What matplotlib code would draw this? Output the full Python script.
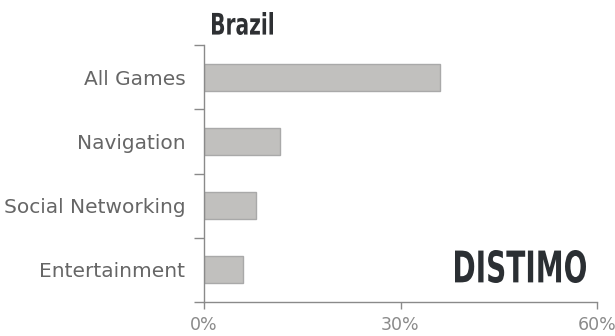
import matplotlib
matplotlib.use("Agg")
import matplotlib.pyplot as plt
from matplotlib.font_manager import FontProperties
from matplotlib.patches import PathPatch
from matplotlib.textpath import TextPath
from matplotlib.transforms import Affine2D

# Share of top downloads by category (Brazil)
categories = ["All Games", "Navigation", "Social Networking", "Entertainment"]
shares = [36.0, 11.6, 7.9, 5.9]
x_ticks = [0, 30, 60]
x_tick_labels = ["0%", "30%", "60%"]
title = "Brazil"
logo = "DISTIMO"

W, H = 615, 336


def fitted_text(fig, s, x0, y0, x1, y1, color):
    """Draw s as a path squeezed into the pixel box (x0, y0)-(x1, y1), y measured from top."""
    prop = FontProperties(family="DejaVu Sans", weight="bold", stretch="condensed")
    path = TextPath((0, 0), s, size=1, prop=prop)
    ext = path.get_extents()
    sx = (x1 - x0) / W / ext.width
    sy = (y1 - y0) / H / ext.height
    tr = Affine2D().translate(-ext.x0, -ext.y0).scale(sx, sy).translate(x0 / W, 1 - y1 / H)
    fig.add_artist(PathPatch(tr.transform_path(path), facecolor=color, edgecolor="none",
                             transform=fig.transFigure))


fig = plt.figure(figsize=(W / 100, H / 100), dpi=100)
ax = fig.add_axes([204 / W, 1 - 302 / H, 393 / W, 257 / H])

pos = list(range(len(categories)))
ax.barh(pos, shares, height=0.42, color="#c1c0be", edgecolor="#a9a9a9", linewidth=1.0)

ax.set_xlim(0, 60)
ax.set_ylim(len(categories) - 0.5, -0.5)

# y ticks at category boundaries, labels centred on bars
ax.set_yticks([p - 0.5 for p in pos] + [len(categories) - 0.5])
ax.set_yticklabels([])
ax.set_yticks(pos, minor=True)
ax.set_yticklabels(categories, minor=True)
ax.tick_params(axis="y", which="major", length=7, width=1, color="#8a8a8a", direction="out")
ax.tick_params(axis="y", which="minor", length=0, pad=13.5, labelsize=14.5, labelcolor="#666666")

ax.set_xticks(x_ticks)
ax.set_xticklabels(x_tick_labels)
ax.tick_params(axis="x", length=5, width=1, color="#8a8a8a", direction="out",
               labelsize=12.5, labelcolor="#8a8a8a", pad=5)

for s in ["top", "right"]:
    ax.spines[s].set_visible(False)
for s in ["left", "bottom"]:
    ax.spines[s].set_color("#8a8a8a")
    ax.spines[s].set_linewidth(1)

fitted_text(fig, title, 212, 12, 273, 35, "#2e3033")
fitted_text(fig, logo, 455, 250, 586, 283, "#2b2f33")

fig.savefig("out.png", dpi=100)
